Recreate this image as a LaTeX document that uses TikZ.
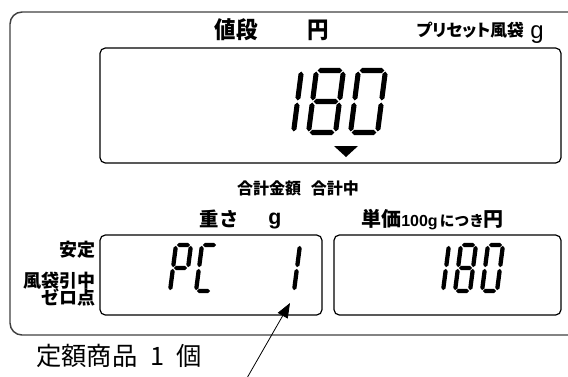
\documentclass[tikz,border=0pt]{standalone}
\usepackage{fontspec}
\usetikzlibrary{calc,arrows.meta}
\newfontfamily\jp{Noto Sans CJK JP}
\newfontfamily\jpp{Noto Sans CJK JP}[RawFeature=+palt]
\newfontfamily\arial{Liberation Sans}
\newcommand\fsz[1]{\fontsize{#1}{#1}\selectfont}
\newcommand\hexseg[2]{%
  \fill[segfill] ($(#1)!\sgap!(#2)$)
    -- ($(#1)!{\sgap+\shw}!(#2)!\shw!90:(#2)$)
    -- ($(#2)!{\sgap+\shw}!(#1)!\shw!-90:(#1)$)
    -- ($(#2)!\sgap!(#1)$)
    -- ($(#2)!{\sgap+\shw}!(#1)!\shw!90:(#1)$)
    -- ($(#1)!{\sgap+\shw}!(#2)!\shw!-90:(#2)$) -- cycle;}
\newcommand\sgA{\hexseg{TL}{TR}}
\newcommand\sgB{\hexseg{TR}{MR}}
\newcommand\sgC{\hexseg{MR}{BR}}
\newcommand\sgD{\hexseg{BL}{BR}}
\newcommand\sgE{\hexseg{ML}{BL}}
\newcommand\sgF{\hexseg{TL}{ML}}
\newcommand\sgG{\hexseg{ML}{MR}}
\newcommand\lcd[6]{%
  \coordinate (BL) at (#1,#2);
  \coordinate (BR) at ({#1+#3},#2);
  \coordinate (ML) at ({#1+#5/2},{#2-#4/2});
  \coordinate (MR) at ({#1+#3+#5/2},{#2-#4/2});
  \coordinate (TL) at ({#1+#5},{#2-#4});
  \coordinate (TR) at ({#1+#3+#5},{#2-#4});
  \foreach \sg in {#6}{\csname sg\sg\endcsname}}
\begin{document}
\begin{tikzpicture}[x=0.75pt,y=-0.75pt,
  segfill/.style={black},
  frame/.style={draw=black!75,line width=1.1pt,rounded corners=9pt},
  lcdbox/.style={draw=black,line width=0.9pt,rounded corners=4pt},
  lbl/.style={inner sep=0pt,font=\jp\bfseries},
  arr/.style={-{Triangle[length=11pt,width=8.5pt]},line width=0.6pt}]
\useasboundingbox (0,0) rectangle (568,376);
\draw[frame] (580,12) -- (10,12) -- (10,335) -- (580,335);
\draw[lcdbox] (100,48) rectangle (561,163);
\draw[lcdbox] (100,235) rectangle (322,315);
\draw[lcdbox] (334,235) rectangle (561,315);
% labels top
\node[lbl,font=\jp\bfseries\fsz{17.5}] (nedan) at (236,30) {\scalebox{0.92}[1]{値段}};
\node[lbl,font=\jp\bfseries\fsz{17.5}] (en) at (318,30) {\scalebox{0.92}[1]{円}};
\node[lbl,anchor=east,font=\jpp\bfseries\fsz{12.5}] (preset) at (524,30) {プリセット風袋};
\node[inner sep=0pt,anchor=base west,font=\arial\fsz{18}] (g1) at (530,38) {g};
% big digits
\def\sgap{0.8pt}\def\shw{1.9pt}
\lcd{266.5}{132.5}{27}{62}{8}{B,C}
\lcd{308.5}{132.5}{27}{62}{8}{A,B,C,D,E,F,G}
\lcd{350.5}{132.5}{27}{62}{8}{A,B,C,D,E,F}
\fill (334,146) -- (358,146) -- (346,157) -- cycle;
\node[lbl,font=\jp\bfseries\fsz{12}] (gokei) at (298,188) {合計金額\hspace{0.6em}合計中};
% middle labels
\node[lbl,font=\jp\bfseries\fsz{14.5}] (omosa) at (219,219) {重さ};
\node[inner sep=0pt,font=\arial\bfseries\fsz{16}] (g2) at (275,221) {g};
\node[inner sep=0pt,anchor=base west] (tanka) at (361,226) {{\jp\bfseries\fsz{15}単価}{\arial\bfseries\fsz{12}100g}\,{\jp\bfseries\fsz{11}につき}{\jp\bfseries\fsz{15}円}};
\node[lbl,anchor=east,font=\jp\bfseries\fsz{13.5}] (antei) at (96,250) {安定};
\node[lbl,anchor=east,font=\jp\bfseries\fsz{13.5}] (futai) at (96,281) {風袋引中};
\node[lbl,anchor=east,font=\jp\bfseries\fsz{13.5}] (zero) at (96,297) {ゼロ点};
% small digits
\def\sgap{0.6pt}\def\shw{1.6pt}
\lcd{170}{291}{15}{46}{6}{A,B,E,F,G}
\lcd{196}{291}{15}{46}{6}{A,D,E,F}
\lcd{279}{291}{15}{46}{6}{B,C}
\lcd{428}{291}{15}{46}{6}{B,C}
\lcd{455}{291}{15}{46}{6}{A,B,C,D,E,F,G}
\lcd{482}{291}{15}{46}{6}{A,B,C,D,E,F}
% annotation
\node[inner sep=0pt,anchor=west,font=\jp\fsz{19}] (teigaku) at (36,356) {定額商品\hspace{0.5em}1\hspace{0.5em}個};
\coordinate (arrtail) at (247,378);
\coordinate (arrtip) at (290,303);
\draw[arr] (arrtail) -- (arrtip);
\end{tikzpicture}
\end{document}
